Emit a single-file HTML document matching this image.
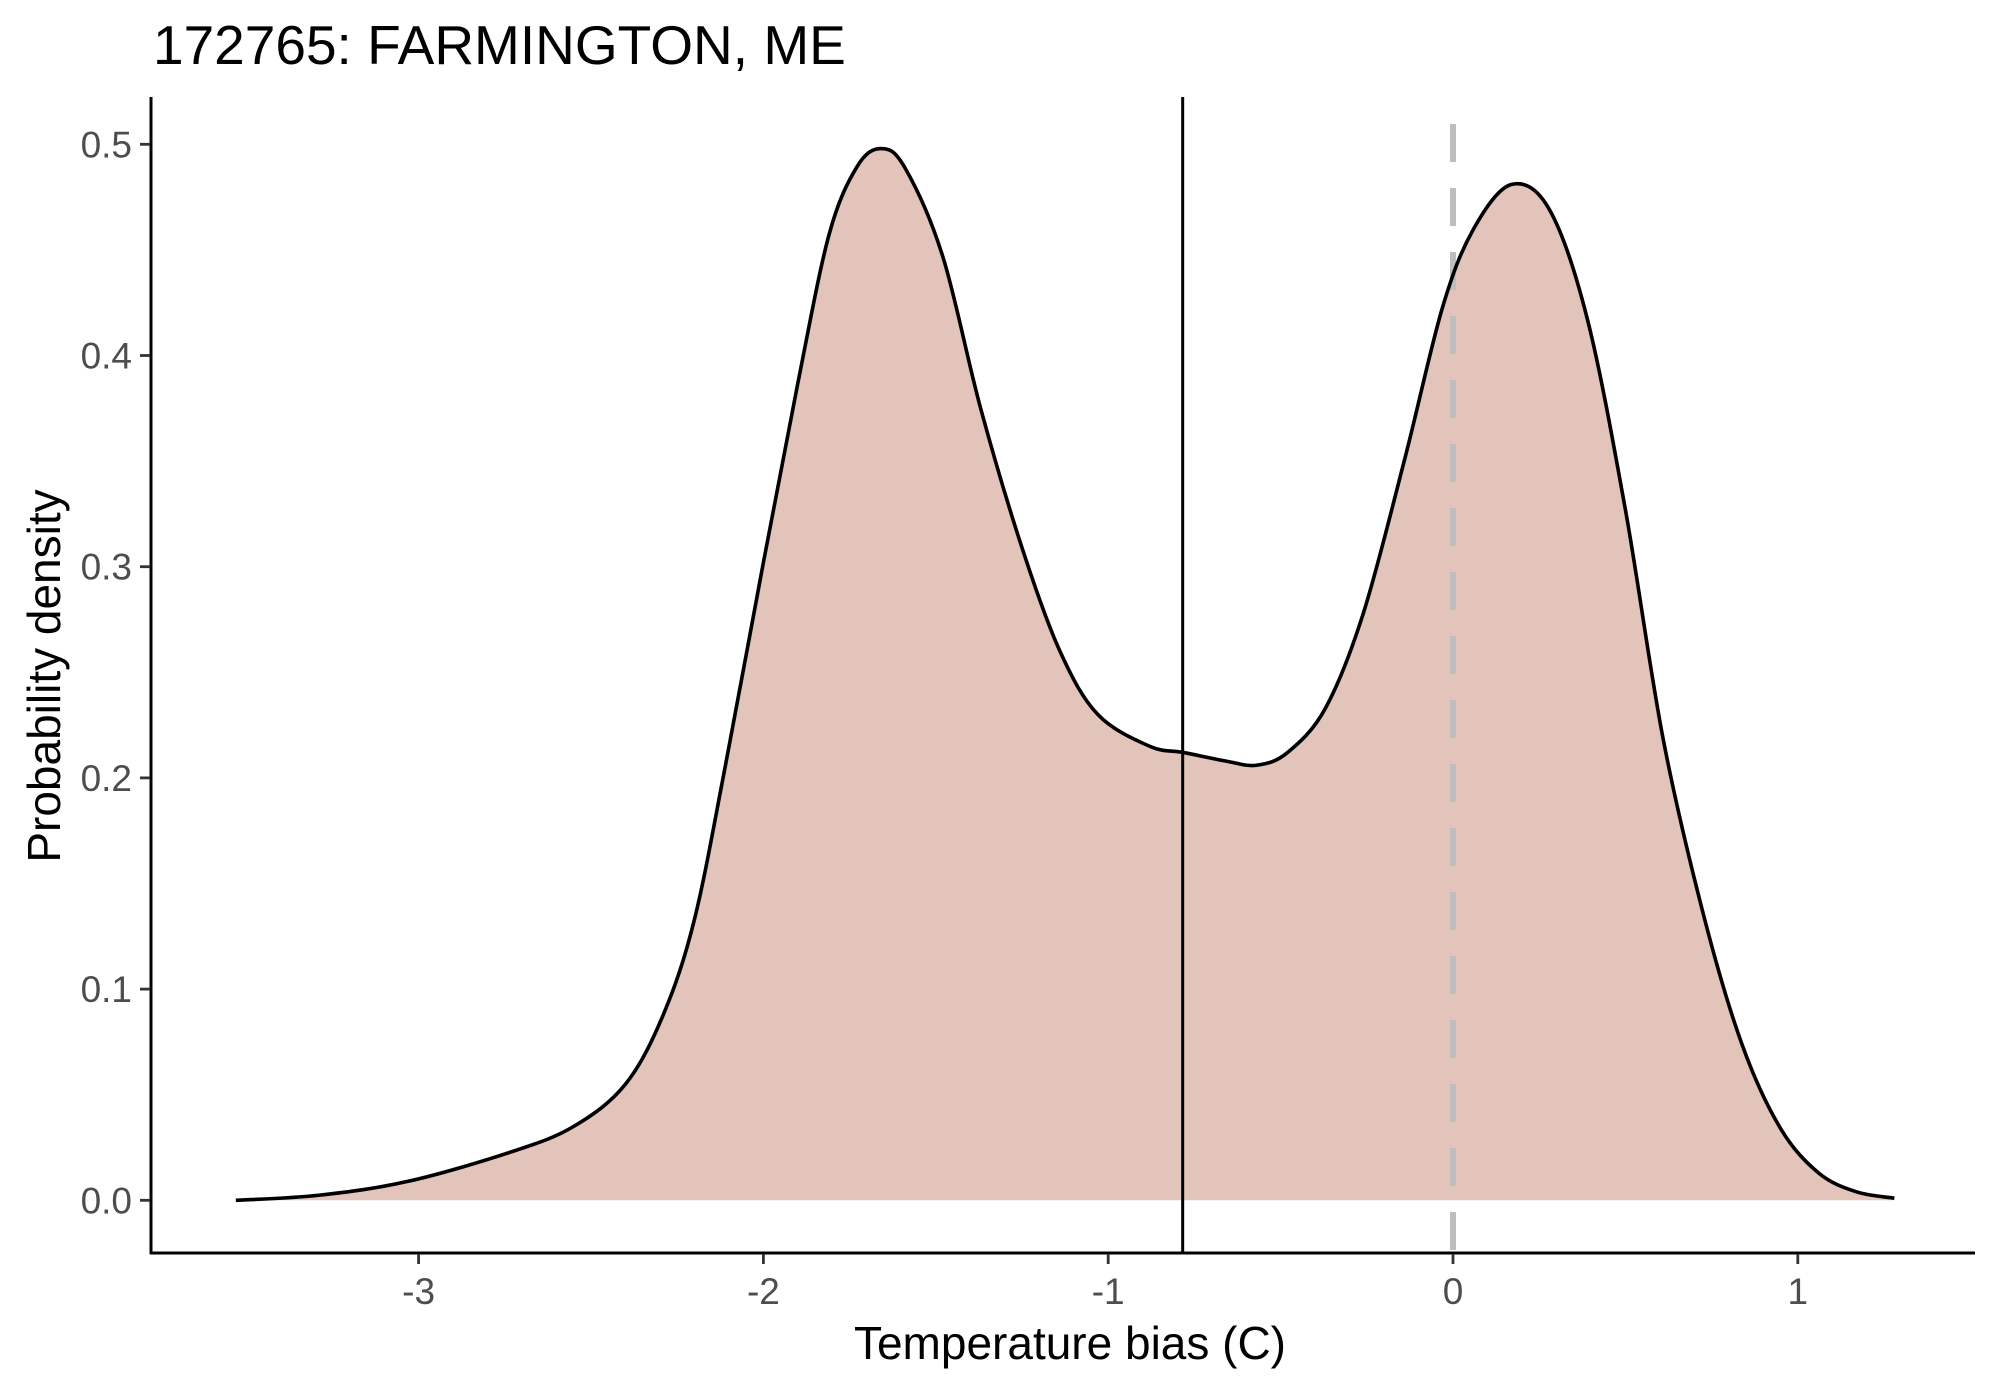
<!DOCTYPE html>
<html><head><meta charset="utf-8"><style>body{margin:0;background:#fff}svg{display:block}</style></head>
<body>
<svg id="chart" width="1990" height="1384" xmlns="http://www.w3.org/2000/svg" font-family="Liberation Sans, sans-serif">
<text x="153" y="64" font-size="55" fill="#000">172765: FARMINGTON, ME</text>
<g id="plot"></g>
<text x="1070" y="1359" font-size="46" text-anchor="middle" fill="#000">Temperature bias (C)</text>
<text transform="translate(60,676) rotate(-90)" font-size="46" text-anchor="middle" fill="#000">Probability density</text>
</svg>
<script>
const xs=[-3.53,-3.29,-3.03,-2.73,-2.55,-2.40,-2.29,-2.20,-2.11,-2.00,-1.90,-1.81,-1.73,-1.66,-1.59,-1.48,-1.37,-1.25,-1.14,-1.03,-0.88,-0.78,-0.66,-0.57,-0.48,-0.37,-0.26,-0.14,-0.03,0.06,0.17,0.28,0.39,0.50,0.61,0.73,0.84,0.95,1.06,1.17,1.28];
const ys=[0,0.0024,0.009,0.023,0.035,0.055,0.088,0.133,0.206,0.302,0.387,0.457,0.489,0.498,0.489,0.447,0.375,0.309,0.260,0.230,0.215,0.212,0.208,0.206,0.212,0.233,0.278,0.351,0.423,0.460,0.481,0.469,0.417,0.327,0.218,0.133,0.073,0.034,0.013,0.004,0.001];
const xTicks=[-3,-2,-1,0,1];
const yTicks=[0,0.1,0.2,0.3,0.4,0.5];
const yTickLabels=["0.0","0.1","0.2","0.3","0.4","0.5"];
const meanLine=-0.784;
const refLine=0;
const NS="http://www.w3.org/2000/svg";
const X=v=>1453+v*344.8, Y=v=>1200.3-v*2112;
const g=document.getElementById('plot');
function el(t,a){const e=document.createElementNS(NS,t);for(const k in a)e.setAttribute(k,a[k]);g.appendChild(e);return e;}
const P=xs.map((x,i)=>[X(x),Y(ys[i])]);
let d='M'+P[0][0]+','+P[0][1];
for(let i=0;i<P.length-1;i++){const p0=P[Math.max(0,i-1)],p1=P[i],p2=P[i+1],p3=P[Math.min(P.length-1,i+2)];
d+=` C${p1[0]+(p2[0]-p0[0])/6},${p1[1]+(p2[1]-p0[1])/6} ${p2[0]-(p3[0]-p1[0])/6},${p2[1]-(p3[1]-p1[1])/6} ${p2[0]},${p2[1]}`;}
const area=el('path',{d:d+` L${P[P.length-1][0]},${Y(0)} L${P[0][0]},${Y(0)} Z`,fill:'#e2c4ba'});


const dash=el('line',{x1:X(refLine),x2:X(refLine),y1:124,y2:1252,stroke:'#bebebe','stroke-width':6,'stroke-dasharray':'38,26'});


const line=el('path',{d:d,fill:'none',stroke:'#000','stroke-width':3.6,'stroke-linejoin':'round'});


const mean=el('line',{x1:X(meanLine),x2:X(meanLine),y1:97,y2:1252,stroke:'#000','stroke-width':3});


const ya=el('line',{x1:151,x2:151,y1:97,y2:1254,stroke:'#000','stroke-width':3});


const xa=el('line',{x1:150,x2:1975,y1:1253,y2:1253,stroke:'#000','stroke-width':3});


xTicks.forEach(v=>{
 const t=el('line',{x1:X(v),x2:X(v),y1:1254,y2:1264,stroke:'#333','stroke-width':2.8});
 
 
 const l=el('text',{x:X(v),y:1304,'font-size':37,fill:'#4d4d4d','text-anchor':'middle'});
 l.textContent=String(v);
 
 
});
yTicks.forEach((v,i)=>{
 const t=el('line',{x1:140,x2:150,y1:Y(v),y2:Y(v),stroke:'#333','stroke-width':2.8});
 
 
 const l=el('text',{x:132,y:Y(v)+13,'font-size':37,fill:'#4d4d4d','text-anchor':'end'});
 l.textContent=yTickLabels[i];
 
 
});
</script>
</body></html>
